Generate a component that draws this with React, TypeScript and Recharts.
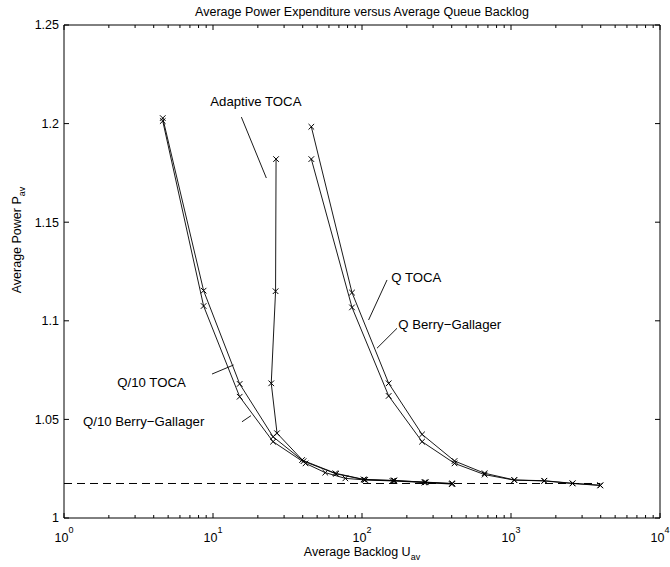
import { LineChart, Line, XAxis, YAxis, ReferenceLine, ReferenceDot } from 'recharts';

const FONT = '"Liberation Sans", Arial, Helvetica, sans-serif';

// axes
const xMajorTicks = [1, 10, 100, 1000, 10000];
const xMinorSteps = [2, 3, 4, 5, 6, 7, 8, 9];
const xTicks = [
    ...xMajorTicks.slice(0, -1).flatMap((d) => [d, ...xMinorSteps.map((m) => m * d)]),
    10000,
];
const yTicks = [1, 1.05, 1.1, 1.15, 1.2, 1.25];
const yTickLabels = ['1', '1.05', '1.1', '1.15', '1.2', '1.25'];

// series: average backlog (x) and average power (y)
const q10TocaBacklog = [4.6, 8.65, 15.1, 25.3, 39.6, 66.2, 102.5, 163, 266, 402];
const q10TocaPower = [1.2028, 1.1153, 1.068, 1.0412, 1.0294, 1.0227, 1.0196, 1.019, 1.0182, 1.0175];

const q10BerryBacklog = [4.6, 8.65, 15.1, 25.3, 41.8, 56.7, 77.3, 105, 160, 262, 400];
const q10BerryPower = [1.2013, 1.1075, 1.0615, 1.0387, 1.0277, 1.023, 1.0201, 1.0193, 1.0188, 1.018, 1.0172];

const adaptiveBacklog = [26.5, 26.3, 24.6, 26.9, 40.5, 67, 104, 165, 268, 405];
const adaptivePower = [1.182, 1.115, 1.0683, 1.043, 1.0288, 1.0224, 1.0194, 1.019, 1.0181, 1.0174];

const qTocaBacklog = [45.7, 85.7, 151, 253, 418, 665, 1052, 1672, 2590, 3975];
const qTocaPower = [1.1984, 1.1143, 1.0683, 1.0424, 1.0289, 1.0227, 1.0193, 1.0189, 1.0176, 1.0166];

const qBerryBacklog = [45.7, 85.7, 151, 253, 418, 665, 1052, 1672, 2590, 3975];
const qBerryPower = [1.182, 1.1068, 1.0619, 1.0387, 1.0277, 1.022, 1.0192, 1.0188, 1.0175, 1.0165];

const boundBacklog = [1, 3975];
const boundPower = [1.0175, 1.0175];

// annotations (data coordinates)
const labelTexts = ['Adaptive TOCA', 'Q TOCA', 'Q Berry\u2212Gallager', 'Q/10 TOCA', 'Q/10 Berry\u2212Gallager'];
const labelBacklog = [9.59, 157.3, 175.2, 2.28, 1.341];
const labelPower = [1.2115, 1.1222, 1.0984, 1.069, 1.0488];
const pointerFrom = [
    { x: 15.5, y: 1.2033 },
    { x: 147.2, y: 1.1207 },
    { x: 171.8, y: 1.0962 },
    { x: 9.85, y: 1.073 },
    { x: 15.65, y: 1.0488 },
];
const pointerTo = [
    { x: 22.8, y: 1.1724 },
    { x: 110.7, y: 1.1004 },
    { x: 126.1, y: 1.0861 },
    { x: 13.75, y: 1.0776 },
    { x: 17.99, y: 1.0519 },
];

const zip = (xs: number[], ys: number[]) => xs.map((x, i) => ({ x, y: ys[i] }));

const series = [
    { name: 'q10Toca', data: zip(q10TocaBacklog, q10TocaPower) },
    { name: 'q10Berry', data: zip(q10BerryBacklog, q10BerryPower) },
    { name: 'adaptive', data: zip(adaptiveBacklog, adaptivePower) },
    { name: 'qToca', data: zip(qTocaBacklog, qTocaPower) },
    { name: 'qBerry', data: zip(qBerryBacklog, qBerryPower) },
];

const isMajor = (v: number) => xMajorTicks.includes(v);

// eslint-disable-next-line @typescript-eslint/no-explicit-any
const CrossDot = (props: any) => {
    const { cx, cy } = props;
    if (cx == null || cy == null) return null;
    const s = 2.8;
    return (
        <path
            d={`M${cx - s},${cy - s}L${cx + s},${cy + s}M${cx - s},${cy + s}L${cx + s},${cy - s}`}
            stroke="#000"
            strokeWidth={1}
            fill="none"
        />
    );
};

// eslint-disable-next-line @typescript-eslint/no-explicit-any
const BottomTick = (props: any) => {
    const { x, y, payload } = props;
    const v = payload.value;
    const major = isMajor(v);
    return (
        <g>
            <line x1={x} y1={y} x2={x} y2={y - (major ? 5 : 3)} stroke="#000" />
            {major && (
                <text x={x} y={y + 24} textAnchor="middle" fontFamily={FONT} fontSize={12.5} fill="#000">
                    10
                    <tspan dy={-9} fontSize={9}>
                        {Math.round(Math.log10(v))}
                    </tspan>
                </text>
            )}
        </g>
    );
};

// eslint-disable-next-line @typescript-eslint/no-explicit-any
const TopTick = (props: any) => {
    const { x, y, payload } = props;
    const major = isMajor(payload.value);
    return <line x1={x} y1={y} x2={x} y2={y + (major ? 5 : 3)} stroke="#000" />;
};

// eslint-disable-next-line @typescript-eslint/no-explicit-any
const LeftTick = (props: any) => {
    const { x, y, payload } = props;
    const idx = yTicks.indexOf(payload.value);
    return (
        <g>
            <line x1={x} y1={y} x2={x + 5} y2={y} stroke="#000" />
            <text x={x - 5} y={y} dy="0.35em" textAnchor="end" fontFamily={FONT} fontSize={12.5} fill="#000">
                {yTickLabels[idx]}
            </text>
        </g>
    );
};

// eslint-disable-next-line @typescript-eslint/no-explicit-any
const RightTick = (props: any) => {
    const { x, y } = props;
    return <line x1={x} y1={y} x2={x - 5} y2={y} stroke="#000" />;
};

export default function App() {
    return (
        <div
            style={{
                position: 'absolute',
                left: 0,
                top: 0,
                width: 670,
                height: 567,
                background: '#fff',
                fontFamily: FONT,
                color: '#000',
            }}
        >
            <LineChart width={670} height={567} margin={{ top: 24, right: 9, bottom: 48, left: 4 }}>
                <XAxis
                    xAxisId="bottom"
                    orientation="bottom"
                    type="number"
                    dataKey="x"
                    scale="log"
                    domain={[1, 10000]}
                    allowDataOverflow
                    ticks={xTicks}
                    interval={0}
                    height={1}
                    tickSize={0}
                    tickMargin={0}
                    tickLine={false}
                    axisLine={{ stroke: '#000' }}
                    tick={<BottomTick />}
                />
                <XAxis
                    xAxisId="top"
                    orientation="top"
                    type="number"
                    dataKey="x"
                    scale="log"
                    domain={[1, 10000]}
                    allowDataOverflow
                    ticks={xTicks}
                    interval={0}
                    height={1}
                    tickSize={0}
                    tickMargin={0}
                    tickLine={false}
                    axisLine={{ stroke: '#000' }}
                    tick={<TopTick />}
                />
                <YAxis
                    yAxisId="left"
                    orientation="left"
                    type="number"
                    domain={[1, 1.25]}
                    allowDataOverflow
                    ticks={yTicks}
                    interval={0}
                    width={60}
                    tickSize={0}
                    tickMargin={0}
                    tickLine={false}
                    axisLine={{ stroke: '#000' }}
                    tick={<LeftTick />}
                />
                <YAxis
                    yAxisId="right"
                    orientation="right"
                    type="number"
                    domain={[1, 1.25]}
                    allowDataOverflow
                    ticks={yTicks}
                    interval={0}
                    width={1}
                    tickSize={0}
                    tickMargin={0}
                    tickLine={false}
                    axisLine={{ stroke: '#000' }}
                    tick={<RightTick />}
                />

                <Line
                    data={zip(boundBacklog, boundPower)}
                    dataKey="y"
                    name="bound"
                    xAxisId="bottom"
                    yAxisId="left"
                    type="linear"
                    stroke="#000"
                    strokeWidth={1}
                    strokeDasharray="8 5"
                    dot={false}
                    activeDot={false}
                    isAnimationActive={false}
                />
                {series.map((s) => (
                    <Line
                        key={s.name}
                        data={s.data}
                        dataKey="y"
                        name={s.name}
                        xAxisId="bottom"
                        yAxisId="left"
                        type="linear"
                        stroke="#000"
                        strokeWidth={0.9}
                        dot={<CrossDot />}
                        activeDot={false}
                        isAnimationActive={false}
                    />
                ))}

                {pointerFrom.map((p, i) => (
                    <ReferenceLine
                        key={`ptr-${i}`}
                        xAxisId="bottom"
                        yAxisId="left"
                        segment={[p, pointerTo[i]]}
                        stroke="#000"
                        strokeWidth={0.9}
                    />
                ))}
                {labelTexts.map((t, i) => (
                    <ReferenceDot
                        key={`lbl-${i}`}
                        xAxisId="bottom"
                        yAxisId="left"
                        x={labelBacklog[i]}
                        y={labelPower[i]}
                        r={0}
                        // eslint-disable-next-line @typescript-eslint/no-explicit-any
                        shape={(props: any) => (
                            <text
                                x={props.cx}
                                y={props.cy}
                                dy="0.35em"
                                textAnchor="start"
                                fontFamily={FONT}
                                fontSize={13.2}
                                fill="#000"
                            >
                                {t}
                            </text>
                        )}
                    />
                ))}
            </LineChart>

            <div
                style={{
                    position: 'absolute',
                    left: 362,
                    top: 12,
                    transform: 'translate(-50%, -50%)',
                    fontSize: 12.5,
                    whiteSpace: 'nowrap',
                }}
            >
                Average Power Expenditure versus Average Queue Backlog
            </div>
            <div
                style={{
                    position: 'absolute',
                    left: 362,
                    top: 552,
                    transform: 'translate(-50%, -50%)',
                    fontSize: 12.5,
                    whiteSpace: 'nowrap',
                }}
            >
                Average Backlog U<span style={{ fontSize: 9, position: 'relative', top: 4 }}>av</span>
            </div>
            <div
                style={{
                    position: 'absolute',
                    left: 17,
                    top: 240,
                    transform: 'translate(-50%, -50%) rotate(-90deg)',
                    fontSize: 12.5,
                    whiteSpace: 'nowrap',
                }}
            >
                Average Power P<span style={{ fontSize: 9, position: 'relative', top: 4 }}>av</span>
            </div>
        </div>
    );
}
